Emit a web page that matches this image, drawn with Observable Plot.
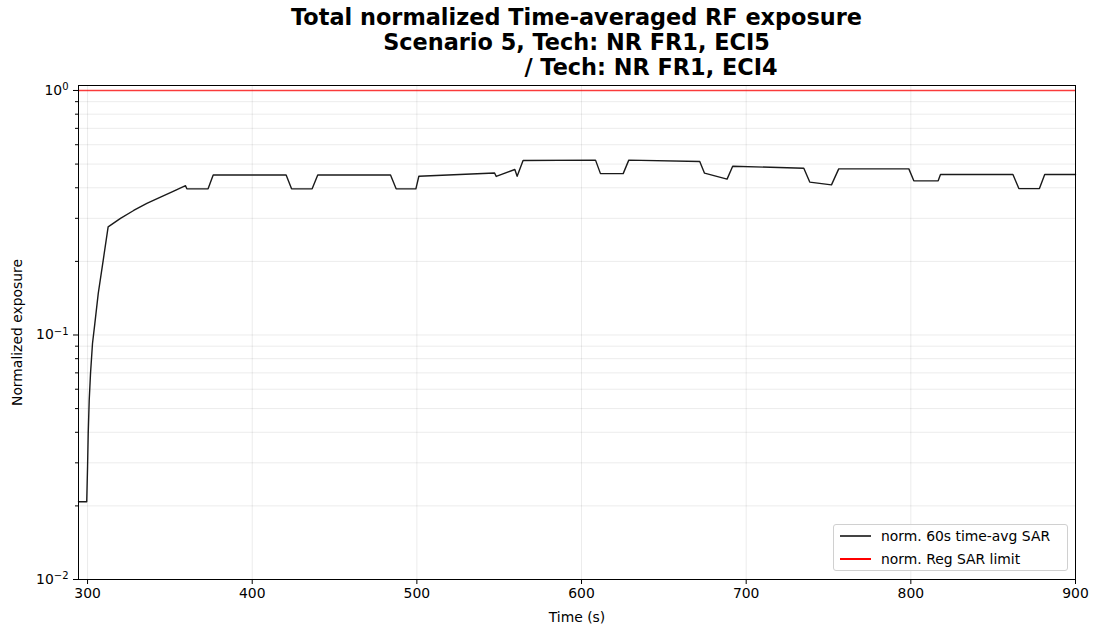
<!DOCTYPE html>
<html>
<head>
<meta charset="utf-8">
<script src="https://cdn.jsdelivr.net/npm/d3@7"></script>
<script src="https://cdn.jsdelivr.net/npm/@observablehq/plot@0.6"></script>
<style>
  html, body { margin: 0; padding: 0; background: #fff; }
  #wrap { position: relative; width: 1094px; height: 630px; font-family: "DejaVu Sans", sans-serif; }
  #title { position: relative; height: 80px; box-sizing: border-box; padding-top: 5px; margin-left: 78px; width: 997px;
           text-align: center; font-weight: bold; font-size: 22.4px; line-height: 25px; color: #000; white-space: pre; }
  #legend { position: absolute; left: 833px; top: 524px; width: 235px; height: 47px; box-sizing: border-box;
            border: 1px solid #d0d0d0; border-radius: 3px; background: rgba(255,255,255,0.85); font-size: 13.9px; color: #000; }
  .row { position: absolute; left: 0; height: 20px; }
  .sw { position: absolute; left: 6px; width: 31px; height: 1.6px; }
  .lab { position: absolute; left: 47px; white-space: nowrap; line-height: 20px; }
</style>
</head>
<body>
<div id="wrap">
  <div id="title"><div>Total normalized Time-averaged RF exposure</div><div>Scenario 5, Tech: NR FR1, ECI5</div><div style="padding-left:149px">/ Tech: NR FR1, ECI4</div></div>
  <div id="chart"></div>
  <div id="legend">
    <div class="row" style="top:1px"><div class="sw" style="top:9px;background:#444"></div><div class="lab" id="l1"></div></div>
    <div class="row" style="top:24px"><div class="sw" style="top:9px;background:#ff0000"></div><div class="lab" id="l2"></div></div>
  </div>
</div>
<script>
// ---- data ----
const times = [294.5, 299.5, 300.0, 300.4, 301.0, 301.8, 303.0, 304.4, 306.5, 309.5, 312.5, 320, 328, 336, 344.3, 352, 359.5, 360.3,
  373.2, 376.3, 420.6, 423.9, 436.4, 439.8, 484, 487.4, 499.4, 501.2, 547.2, 548.2, 559.5, 560.9, 564.5,
  608.5, 611.5, 625.3, 628.7, 671.8, 674.7, 688.4, 691.8, 735, 738.6, 751.8, 756.2, 798.8, 801.8,
  816.6, 818, 862, 865.6, 878.1, 881.3, 900];
const sarValues = [0.0208, 0.0208, 0.0289, 0.0395, 0.054, 0.0696, 0.0923, 0.111, 0.148, 0.202, 0.277, 0.300, 0.323, 0.345, 0.366, 0.387, 0.408, 0.396,
  0.396, 0.451, 0.451, 0.396, 0.396, 0.451, 0.451, 0.396, 0.396, 0.446, 0.460, 0.445, 0.475, 0.446, 0.517,
  0.519, 0.457, 0.457, 0.519, 0.512, 0.459, 0.434, 0.490, 0.481, 0.422, 0.411, 0.478, 0.478, 0.427,
  0.427, 0.453, 0.453, 0.397, 0.397, 0.453, 0.453];
const limitValue = [1];
const seriesNames = ["norm. 60s time-avg SAR", "norm. Reg SAR limit"];
const xTicks = [300, 400, 500, 600, 700, 800, 900];
const yMajorTicks = [0.01, 0.1, 1];
const yMajorExponents = ["\u22122", "\u22121", "0"];
const yMinorTicks = [0.02, 0.03, 0.04, 0.05, 0.06, 0.07, 0.08, 0.09, 0.2, 0.3, 0.4, 0.5, 0.6, 0.7, 0.8, 0.9];

const data = times.map((t, i) => ({t, v: sarValues[i]}));
document.getElementById("l1").textContent = seriesNames[0];
document.getElementById("l2").textContent = seriesNames[1];

const chart = Plot.plot({
  width: 1094, height: 550,
  marginTop: 5, marginBottom: 51, marginLeft: 78, marginRight: 19,
  style: {fontFamily: "DejaVu Sans", fontSize: "13.9px", color: "#000", background: "white", overflow: "visible"},
  x: {domain: [294.5, 900]},
  y: {type: "log", domain: [0.01, 1.048]},
  marks: [
    Plot.ruleY(yMinorTicks.concat(yMajorTicks), {stroke: "#000", strokeOpacity: 0.08, strokeWidth: 1}),
    Plot.ruleX(xTicks, {stroke: "#000", strokeOpacity: 0.08, strokeWidth: 1}),
    Plot.ruleY(limitValue, {stroke: "red", strokeWidth: 1.6, strokeOpacity: 0.75}),
    Plot.line(data, {x: "t", y: "v", stroke: "#1a1a1a", strokeWidth: 1.4}),
    Plot.frame({stroke: "#000", strokeWidth: 1}),
    Plot.axisX(xTicks, {tickSize: 5, tickPadding: 4, tickFormat: d => String(d), label: "Time (s)",
      labelAnchor: "center", labelArrow: "none", labelOffset: 42}),
    Plot.axisY(yMajorTicks, {tickSize: 5, tickPadding: 5, tickFormat: d => "10^" + yMajorExponents[yMajorTicks.indexOf(d)],
      label: "Normalized exposure", labelAnchor: "center", labelArrow: "none", labelOffset: 66}),
    Plot.axisY(yMinorTicks, {tickSize: 3, tickFormat: () => "", label: null})
  ]
});
document.getElementById("chart").appendChild(chart);

// render "10^e" tick labels with a real superscript
d3.select(chart).selectAll("text").each(function() {
  const s = this.textContent;
  if (s.startsWith("10^")) {
    const exp = s.slice(3);
    const t = d3.select(this);
    t.text("10");
    t.append("tspan").attr("dy", "-0.45em").attr("font-size", "0.72em").text(exp);
  }
});
</script>
</body>
</html>
